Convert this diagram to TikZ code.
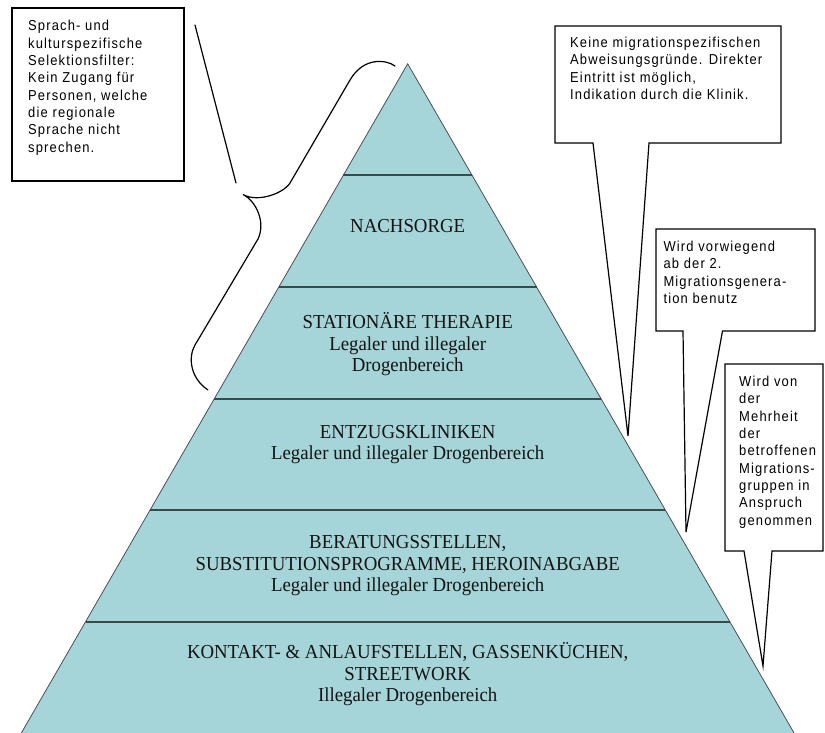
\documentclass[tikz,border=0pt]{standalone}
\usepackage{fontspec}
\usetikzlibrary{calc}
\newfontfamily\cofont[FakeStretch=0.9,LetterSpace=8]{Liberation Sans}
\newfontfamily\pyfont[FakeStretch=0.95]{Liberation Serif}
\definecolor{pyfill}{RGB}{166,213,217}
\definecolor{layerline}{RGB}{58,74,74}
\definecolor{pyedge}{RGB}{70,82,82}
\definecolor{pytext}{RGB}{20,20,20}
\newcommand{\cotext}[1]{\parbox[t]{260pt}{\raggedright\cofont\fontsize{14.4pt}{17.35pt}\selectfont #1}}
\begin{document}
\begin{tikzpicture}[x=1pt,y=-1pt,
  callout/.style={draw=black,line width=1.2pt,fill=white,line join=miter},
  layersep/.style={draw=layerline,line width=2pt},
  pyedgeline/.style={draw=pyedge,line width=0.8pt},
  pyline/.style={font={\pyfont\fontsize{19.8pt}{21.3pt}\selectfont},text=pytext,anchor=base,inner sep=0pt},
  coline/.style={anchor=base west,inner sep=0pt,text=black},
  bracestyle/.style={draw=black,line width=1.2pt,line cap=round}]
\useasboundingbox (0,0) rectangle (825,732);
\clip (0,0) rectangle (825,732);
\fill[white] (0,0) rectangle (825,732);
% pyramid
\coordinate (apex) at (407.7,63.8);
\coordinate (bl) at (21.1,733.4);
\coordinate (br) at (794.3,733.4);
\fill[pyfill] (apex) -- (br) -- (bl) -- cycle;
\draw[pyedgeline] (bl) -- (apex) -- (br);
\foreach \k in {1,...,5}{
  \draw[layersep] ($(apex)!\k/6!(bl)$) -- ($(apex)!\k/6!(br)$);
}
% pyramid texts
\node[pyline] (n1) at (407.7,232) {NACHSORGE};
\node[pyline] (s1) at (407.7,328.5) {STATIONÄRE THERAPIE};
\node[pyline] (s2) at (407.7,350) {Legaler und illegaler};
\node[pyline] (s3) at (407.7,371) {Drogenbereich};
\node[pyline] (e1) at (407.7,438) {ENTZUGSKLINIKEN};
\node[pyline] (e2) at (407.7,459) {Legaler und illegaler Drogenbereich};
\node[pyline] (b1) at (407.7,548.5) {BERATUNGSSTELLEN,};
\node[pyline] (b2) at (407.7,570) {SUBSTITUTIONSPROGRAMME, HEROINABGABE};
\node[pyline] (b3) at (407.7,591) {Legaler und illegaler Drogenbereich};
\node[pyline] (k1) at (407.7,658.5) {KONTAKT- \& ANLAUFSTELLEN, GASSENKÜCHEN,};
\node[pyline] (k2) at (407.7,680) {STREETWORK};
\node[pyline] (k3) at (407.7,701) {Illegaler Drogenbereich};
% left callout
\draw[callout] (12,8) rectangle (184,181);
\node[coline] (lt) at (28,30.7) {\cotext{Sprach- und\\kulturspezifische\\Selektionsfilter:\\Kein Zugang für\\Personen, welche\\die regionale\\Sprache nicht\\sprechen.}};
\coordinate (ls) at (195,25);
\coordinate (le) at (236,183);
\draw[bracestyle] (ls) -- (le);
\draw[bracestyle] (395,66) .. controls (387,60) and (364,56) .. (350,80)
  -- (290,183) .. controls (284,193) and (258,203) .. (243,194.5)
  .. controls (256,201) and (266,222) .. (258,239)
  -- (195,345) .. controls (188,357) and (190,378) .. (208,390);
% callout 1
\draw[callout] (555,26) -- (781,26) -- (781,143) -- (649,143) -- (628,436) -- (593,143) -- (555,143) -- cycle;
\node[coline] (c1) at (570,47.3) {\cotext{Keine migrationspezifischen\\Abweisungsgründe. Direkter\\Eintritt ist möglich,\\Indikation durch die Klinik.}};
% callout 2
\draw[callout] (656,229) -- (815,229) -- (815,331) -- (722.5,331) -- (686,532) -- (683,331) -- (656,331) -- cycle;
\node[coline] (c2) at (663.3,251.5) {\cotext{Wird vorwiegend\\ab der 2.\\Migrationsgenera-\\tion benutz}};
% callout 3
\draw[callout] (725,364) -- (823,364) -- (823,551) -- (772,551) -- (763,666) -- (744,551) -- (725,551) -- cycle;
\node[coline] (c3) at (739,386.5) {\cotext{Wird von\\der\\Mehrheit\\der\\betroffenen\\Migrations-\\gruppen in\\Anspruch\\genommen}};
\end{tikzpicture}
\end{document}
